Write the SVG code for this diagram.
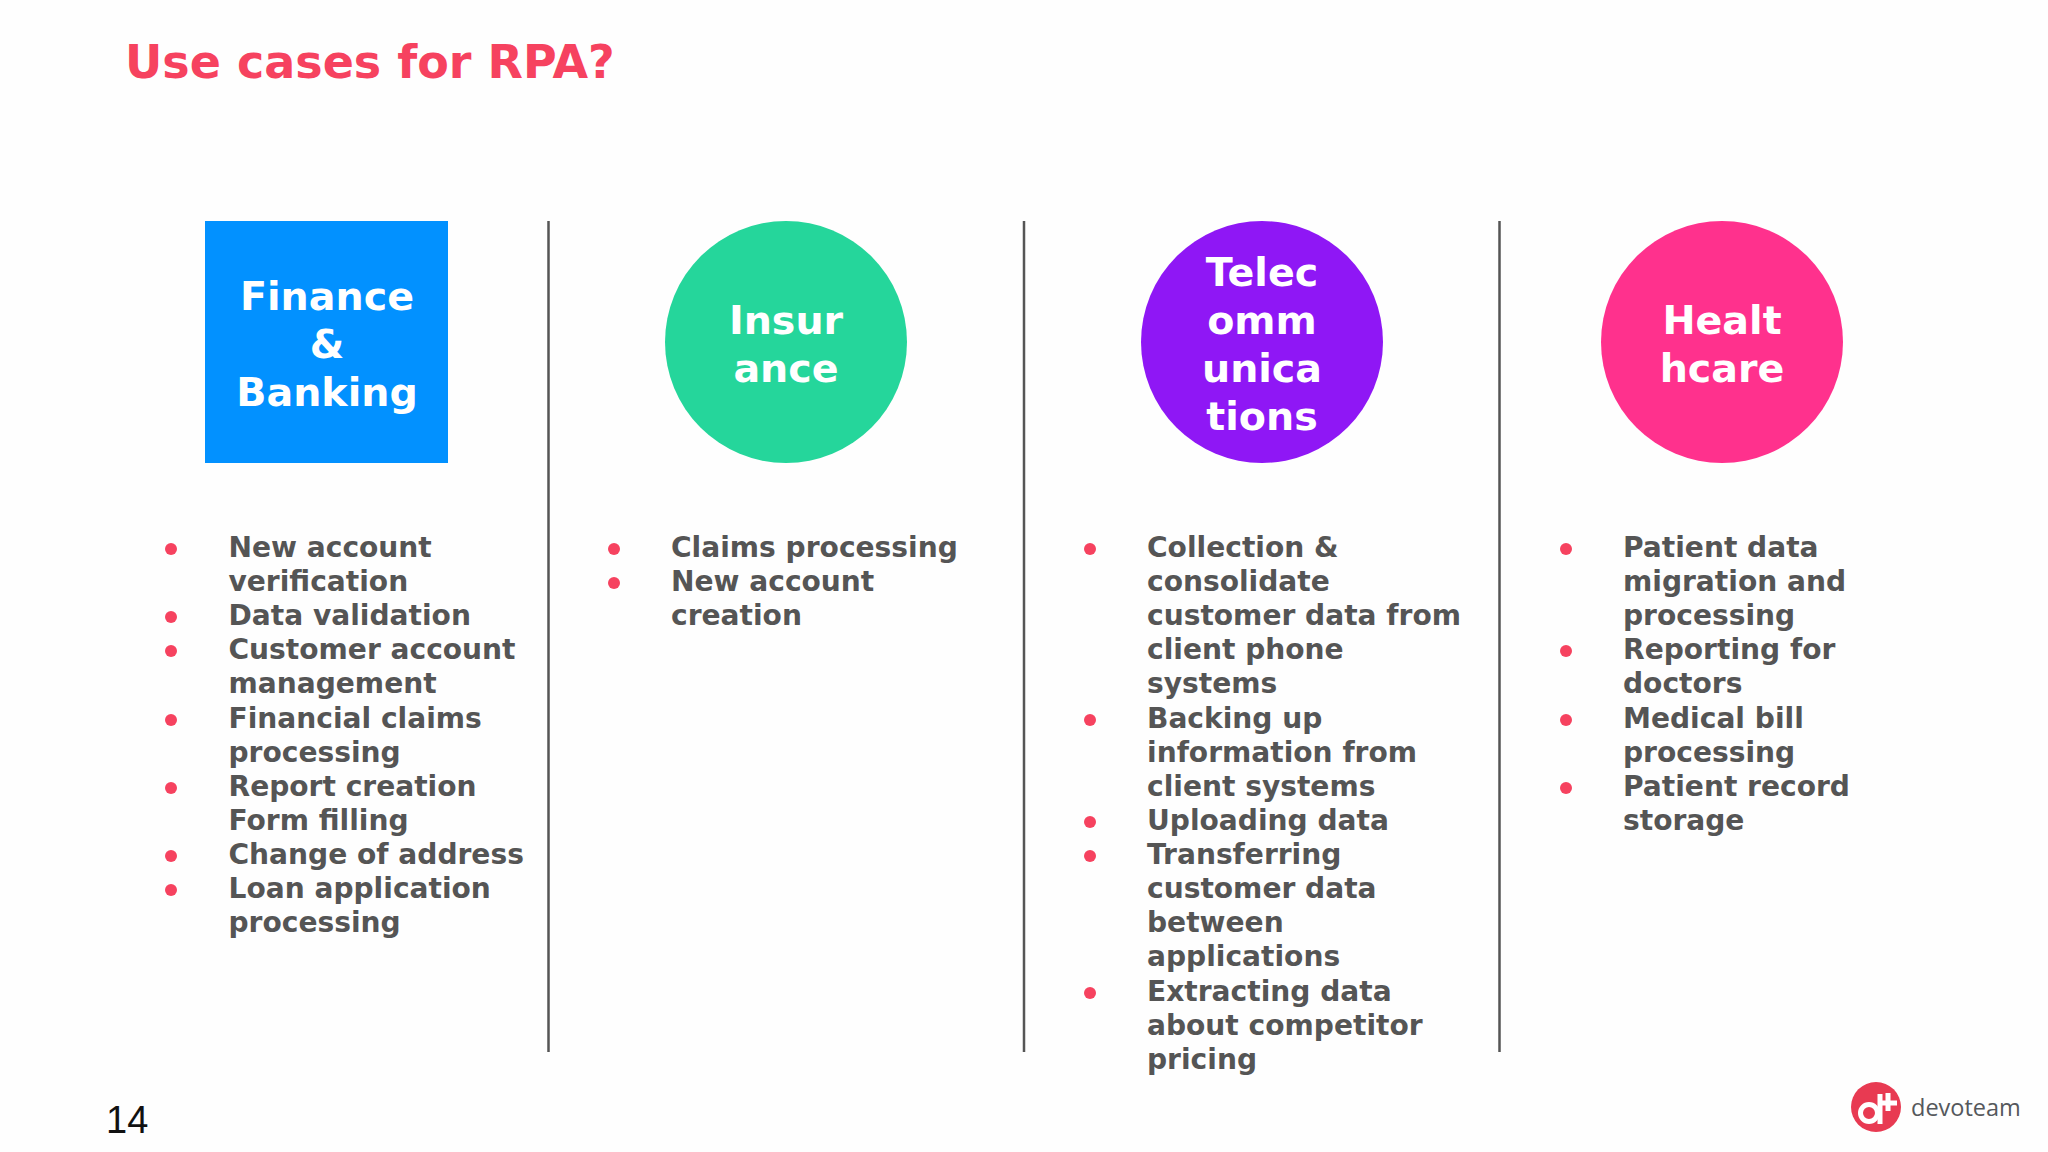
<svg xmlns="http://www.w3.org/2000/svg" width="2048" height="1152" viewBox="0 0 2048 1152">
<style>
text{font-family:"DejaVu Sans",sans-serif;font-weight:700}
.title{font-size:46px;fill:#f6425f}
.head{font-size:39.6px;fill:#fff;text-anchor:middle}
.item{font-size:28.1px;fill:#555}
.dot{fill:#f6425f}
.divider{stroke:#555;stroke-width:2.5;fill:none}
.num{font-family:"Liberation Sans",sans-serif;font-weight:400;font-size:38px;fill:#111}
.logotext{font-family:"Open Sans",sans-serif;font-weight:400;font-size:23.5px;fill:#55585c}
</style>
<rect width="2048" height="1152" fill="#fefefe"/>
<text class="title" x="125" y="78">Use cases for RPA?</text>
<g id="connectors">
<line class="divider" x1="548.5" y1="221" x2="548.5" y2="1052"/>
<line class="divider" x1="1024" y1="221" x2="1024" y2="1052"/>
<line class="divider" x1="1499.5" y1="221" x2="1499.5" y2="1052"/>
</g>
<g id="node-finance">
<rect x="205" y="221" width="243" height="242" fill="#0291ff"/>
<text class="head" x="327" y="309.5">Finance</text>
<text class="head" x="327" y="357.5">&amp;</text>
<text class="head" x="327" y="405.5">Banking</text>
</g>
<g id="node-insurance">
<circle cx="786" cy="342" r="121" fill="#25d69b"/>
<text class="head" x="786" y="333.5">Insur</text>
<text class="head" x="786" y="381.5">ance</text>
</g>
<g id="node-telecom">
<circle cx="1262" cy="342" r="121" fill="#8f17f5"/>
<text class="head" x="1262" y="285.5">Telec</text>
<text class="head" x="1262" y="333.5">omm</text>
<text class="head" x="1262" y="381.5">unica</text>
<text class="head" x="1262" y="429.5">tions</text>
</g>
<g id="node-healthcare">
<circle cx="1722" cy="342" r="121" fill="#ff318d"/>
<text class="head" x="1722" y="333.5">Healt</text>
<text class="head" x="1722" y="381.5">hcare</text>
</g>
<g id="list-finance">
<circle class="dot" cx="171" cy="549" r="6"/><circle class="dot" cx="171" cy="617" r="6"/><circle class="dot" cx="171" cy="651" r="6"/><circle class="dot" cx="171" cy="720" r="6"/><circle class="dot" cx="171" cy="788" r="6"/><circle class="dot" cx="171" cy="856" r="6"/><circle class="dot" cx="171" cy="890" r="6"/>
<text class="item" x="228.5" y="557">New account</text>
<text class="item" x="228.5" y="591">verification</text>
<text class="item" x="228.5" y="625">Data validation</text>
<text class="item" x="228.5" y="659">Customer account</text>
<text class="item" x="228.5" y="693">management</text>
<text class="item" x="228.5" y="728">Financial claims</text>
<text class="item" x="228.5" y="762">processing</text>
<text class="item" x="228.5" y="796">Report creation</text>
<text class="item" x="228.5" y="830">Form filling</text>
<text class="item" x="228.5" y="864">Change of address</text>
<text class="item" x="228.5" y="898">Loan application</text>
<text class="item" x="228.5" y="932">processing</text>
</g>
<g id="list-insurance">
<circle class="dot" cx="614" cy="549" r="6"/><circle class="dot" cx="614" cy="583" r="6"/>
<text class="item" x="671" y="557">Claims processing</text>
<text class="item" x="671" y="591">New account</text>
<text class="item" x="671" y="625">creation</text>
</g>
<g id="list-telecom">
<circle class="dot" cx="1090" cy="549" r="6"/><circle class="dot" cx="1090" cy="720" r="6"/><circle class="dot" cx="1090" cy="822" r="6"/><circle class="dot" cx="1090" cy="856" r="6"/><circle class="dot" cx="1090" cy="993" r="6"/>
<text class="item" x="1147" y="557">Collection &amp;</text>
<text class="item" x="1147" y="591">consolidate</text>
<text class="item" x="1147" y="625">customer data from</text>
<text class="item" x="1147" y="659">client phone</text>
<text class="item" x="1147" y="693">systems</text>
<text class="item" x="1147" y="728">Backing up</text>
<text class="item" x="1147" y="762">information from</text>
<text class="item" x="1147" y="796">client systems</text>
<text class="item" x="1147" y="830">Uploading data</text>
<text class="item" x="1147" y="864">Transferring</text>
<text class="item" x="1147" y="898">customer data</text>
<text class="item" x="1147" y="932">between</text>
<text class="item" x="1147" y="966">applications</text>
<text class="item" x="1147" y="1001">Extracting data</text>
<text class="item" x="1147" y="1035">about competitor</text>
<text class="item" x="1147" y="1069">pricing</text>
</g>
<g id="list-healthcare">
<circle class="dot" cx="1566" cy="549" r="6"/><circle class="dot" cx="1566" cy="651" r="6"/><circle class="dot" cx="1566" cy="720" r="6"/><circle class="dot" cx="1566" cy="788" r="6"/>
<text class="item" x="1623" y="557">Patient data</text>
<text class="item" x="1623" y="591">migration and</text>
<text class="item" x="1623" y="625">processing</text>
<text class="item" x="1623" y="659">Reporting for</text>
<text class="item" x="1623" y="693">doctors</text>
<text class="item" x="1623" y="728">Medical bill</text>
<text class="item" x="1623" y="762">processing</text>
<text class="item" x="1623" y="796">Patient record</text>
<text class="item" x="1623" y="830">storage</text>
</g>
<text class="num" x="106" y="1133">14</text>
<g id="logo">
<circle cx="1876" cy="1107" r="25" fill="#e83a52"/>
<circle cx="1869" cy="1113" r="8.5" fill="none" stroke="#fff" stroke-width="5"/>
<path d="M1880 1094V1124M1878 1103H1897M1888 1093V1111" fill="none" stroke="#fff" stroke-width="5"/>
<text class="logotext" x="1911" y="1116">devoteam</text>
</g>
</svg>
